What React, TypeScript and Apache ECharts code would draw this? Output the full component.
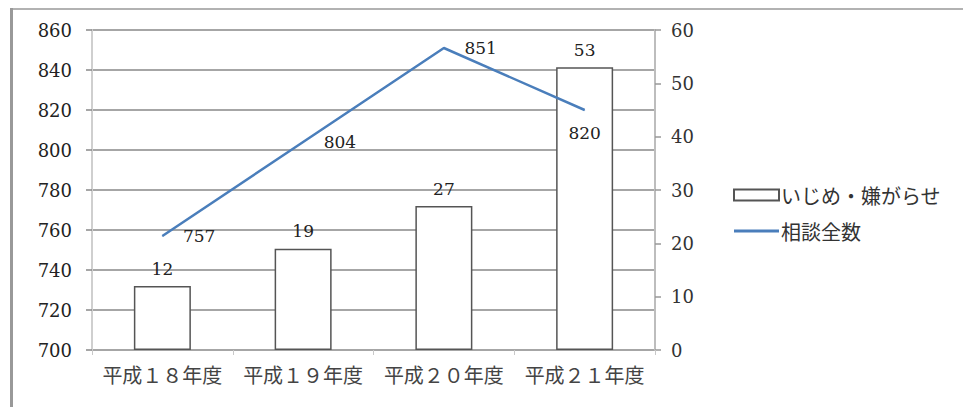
import React, { useEffect, useRef } from "react";
import * as echarts from "echarts";

const categories = ["平成１８年度", "平成１９年度", "平成２０年度", "平成２１年度"];
const barName = "いじめ・嫌がらせ";
const lineName = "相談全数";
const barValues = [12, 19, 27, 53];
const lineValues = [757, 804, 851, 820];
const lineLabelPositions = ["right", "right", "right", "bottom"];

export default function App() {
  const ref = useRef<HTMLDivElement>(null);
  useEffect(() => {
    if (!ref.current) return;
    const chart = echarts.init(ref.current, undefined, { renderer: "svg" });
    const serif = "DejaVu Serif";
    const cjk = "Noto Sans CJK JP";
    chart.setOption({
      animation: false,
      backgroundColor: "#ffffff",
      grid: { left: 92, right: 308, top: 30, bottom: 57, containLabel: false },
      legend: {
        orient: "vertical",
        left: 733,
        top: 185,
        padding: 0,
        itemWidth: 45,
        itemHeight: 11,
        itemGap: 16,
        textStyle: { fontFamily: cjk, fontSize: 20, color: "#333", padding: [0, 0, 0, -3] },
        data: [
          { name: barName, icon: "rect" },
          { name: lineName, icon: "path://M0 0 H45 V3 H0 Z" },
        ],
      },
      xAxis: {
        type: "category",
        data: categories,
        axisLine: { show: false },
        axisTick: { show: true, length: 5, lineStyle: { color: "#c8c8c8", width: 1 } },
        axisLabel: { fontFamily: cjk, fontSize: 20, color: "#444", margin: 14, interval: 0 },
      },
      yAxis: [
        {
          type: "value",
          min: 700,
          max: 860,
          interval: 20,
          axisLine: { show: true, lineStyle: { color: "#cfcfcf", width: 2 } },
          axisTick: { show: true, length: 6, lineStyle: { color: "#888", width: 1.5 } },
          axisLabel: { fontFamily: serif, fontSize: 18, color: "#222", margin: 20 },
          splitLine: { show: true, lineStyle: { color: "#888", width: 1.5 } },
        },
        {
          type: "value",
          min: 0,
          max: 60,
          interval: 10,
          position: "right",
          axisLine: { show: true, lineStyle: { color: "#bdbdbd", width: 2 } },
          axisTick: { show: true, length: 6, lineStyle: { color: "#999", width: 1.5 } },
          axisLabel: { fontFamily: serif, fontSize: 18, color: "#333", margin: 16 },
          splitLine: { show: false },
        },
      ],
      series: [
        {
          name: barName,
          type: "bar",
          yAxisIndex: 1,
          data: barValues,
          barWidth: 57,
          itemStyle: { color: "#ffffff", borderColor: "#555", borderWidth: 1.5 },
          label: {
            show: true,
            position: "top",
            distance: 9,
            fontFamily: serif,
            fontSize: 17,
            color: "#222",
          },
          z: 2,
        },
        {
          name: lineName,
          type: "line",
          yAxisIndex: 0,
          data: lineValues.map((v, i) => ({
            value: v,
            label: {
              position: lineLabelPositions[i],
              distance: lineLabelPositions[i] === "bottom" ? 14 : 20,
            },
          })),
          symbol: "circle",
          symbolSize: 1,
          lineStyle: { color: "#4a7ebb", width: 2.5 },
          itemStyle: { color: "#4a7ebb" },
          label: {
            show: true,
            fontFamily: serif,
            fontSize: 17,
            color: "#222",
          },
          z: 3,
        },
      ],
      graphic: [
        { type: "line", shape: { x1: 10, y1: 9, x2: 963, y2: 9 }, style: { stroke: "#999", lineWidth: 1.5 }, silent: true },
        { type: "line", shape: { x1: 11.5, y1: 8, x2: 11.5, y2: 407 }, style: { stroke: "#999", lineWidth: 3 }, silent: true },
      ],
    });
    return () => chart.dispose();
  }, []);
  return (
    <div
      ref={ref}
      style={{ position: "fixed", left: 0, top: 0, width: 963, height: 407 }}
    />
  );
}
